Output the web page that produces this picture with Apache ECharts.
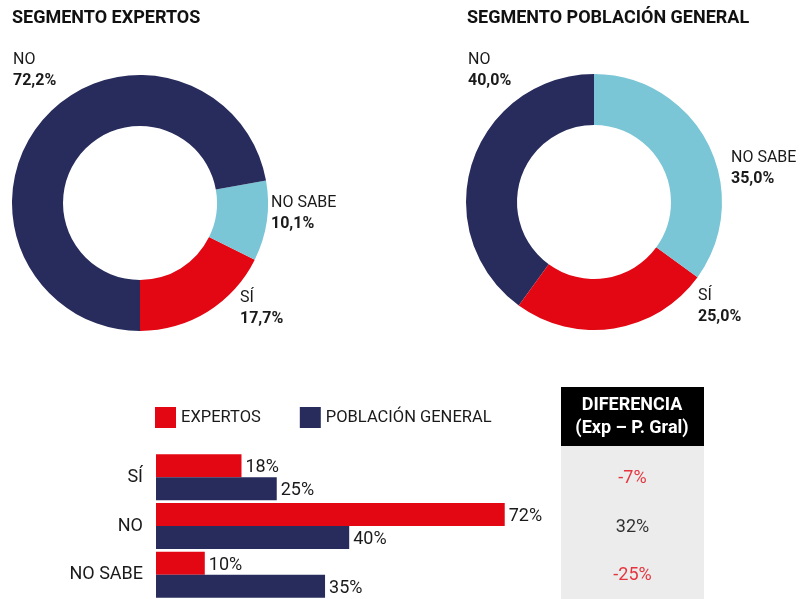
<!DOCTYPE html>
<html>
<head>
<meta charset="utf-8">
<script src="https://cdn.jsdelivr.net/npm/echarts@6/dist/echarts.min.js"></script>
<style>
html, body { margin: 0; padding: 0; background: #fff; }
#main { width: 802px; height: 599px; }
</style>
</head>
<body>
<div id="main"></div>
<script>
// datos
var categories = ['SÍ', 'NO', 'NO SABE'];
var expertos = [17.7, 72.2, 10.1];
var poblacion = [25.0, 40.0, 35.0];
var seriesNames = ['EXPERTOS', 'POBLACIÓN GENERAL'];
var pieTitles = ['SEGMENTO EXPERTOS', 'SEGMENTO POBLACIÓN GENERAL'];
var diffHeader = 'DIFERENCIA\n(Exp – P. Gral)';

var RED = '#e30613', NAVY = '#272c5c', SKY = '#7ac5d6', TXT = '#1a1a1a';
var sliceColor = { 'SÍ': RED, 'NO': NAVY, 'NO SABE': SKY };
var FONT = "Roboto, 'Liberation Sans', sans-serif";

var diffs = expertos.map(function (v, i) { return Math.round(v) - Math.round(poblacion[i]); });

// orden de los sectores (antihorario) y posicion de etiquetas
var pieOrder = [[0, 2, 1], [1, 0, 2]];
var pieStart = [270, 90];
var pieCenter = [[140, 203], [594, 202]];
var labelPos = [
    { 'SÍ': [240, 287], 'NO': [13, 49], 'NO SABE': [271, 192] },
    { 'SÍ': [698, 285], 'NO': [468, 49], 'NO SABE': [731, 147] }
];

function pct(v) { return v.toFixed(1).replace('.', ',') + '%'; }

function makePie(k, values) {
    var data = pieOrder[k].map(function (i) {
        return { name: categories[i], value: values[i], itemStyle: { color: sliceColor[categories[i]] } };
    });
    return {
        type: 'pie',
        center: pieCenter[k],
        radius: [77, 128],
        startAngle: pieStart[k],
        clockwise: false,
        silent: true,
        data: data,
        labelLine: { show: false },
        label: {
            show: true,
            position: 'outside',
            overflow: 'none',
            formatter: function (p) { return '{n|' + p.name + '}\n{v|' + pct(p.value) + '}'; },
            rich: {
                n: { fontFamily: FONT, fontSize: 16, color: TXT, lineHeight: 21 },
                v: { fontFamily: FONT, fontSize: 16, fontWeight: 'bold', color: TXT, lineHeight: 21 }
            }
        },
        labelLayout: function (params) {
            var name = data[params.dataIndex].name;
            var p = labelPos[k][name];
            return { x: p[0], y: p[1], align: 'left', verticalAlign: 'top' };
        }
    };
}

var barLabel = {
    show: true, position: 'right', distance: 4, offset: [0, 2],
    fontFamily: FONT, fontSize: 18, color: TXT,
    formatter: function (p) { return Math.round(p.value) + '%'; }
};

var myChart = echarts.init(document.getElementById('main'));

var option = {
    animation: false,
    title: pieTitles.map(function (t, k) {
        return {
            text: t, left: k === 0 ? 12 : 467, top: 9, padding: 0,
            textStyle: { fontFamily: FONT, fontSize: 18, fontWeight: 'bold', color: '#111' }
        };
    }),
    legend: {
        data: seriesNames,
        left: 155, top: 407, padding: 0,
        itemWidth: 21, itemHeight: 21, itemGap: 39,
        icon: 'rect',
        textStyle: { fontFamily: FONT, fontSize: 16.5, color: TXT }
    },
    grid: [
        { left: 156, top: 453, width: 483, height: 149 },
        { left: 561, top: 453, width: 143, height: 149 }
    ],
    xAxis: [
        { type: 'value', gridIndex: 0, min: 0, max: 100, show: false },
        { type: 'value', gridIndex: 1, min: -1, max: 1, show: false }
    ],
    yAxis: [
        {
            type: 'category', gridIndex: 0, data: categories, inverse: true,
            axisLine: { show: false }, axisTick: { show: false }, splitLine: { show: false },
            axisLabel: { fontFamily: FONT, fontSize: 18, color: TXT, margin: 13 }
        },
        { type: 'category', gridIndex: 1, data: categories, inverse: true, show: false }
    ],
    graphic: [
        { type: 'rect', z: 0, shape: { x: 561, y: 446, width: 143, height: 160 }, style: { fill: '#ececec' } },
        { type: 'rect', z: 0, shape: { x: 561, y: 387, width: 143, height: 59 }, style: { fill: '#000' } },
        {
            type: 'text', z: 1, x: 632, y: 394,
            style: {
                text: diffHeader, fill: '#fff', align: 'center',
                font: 'bold 18px ' + FONT, lineHeight: 23
            }
        }
    ],
    series: [
        makePie(0, expertos),
        makePie(1, poblacion),
        {
            name: seriesNames[0], type: 'bar', xAxisIndex: 0, yAxisIndex: 0,
            data: expertos, barWidth: 23, barGap: 0, silent: true,
            itemStyle: { color: RED },
            label: barLabel
        },
        {
            name: seriesNames[1], type: 'bar', xAxisIndex: 0, yAxisIndex: 0,
            data: poblacion, barWidth: 23, barGap: 0, silent: true,
            itemStyle: { color: NAVY },
            label: barLabel
        },
        {
            type: 'scatter', xAxisIndex: 1, yAxisIndex: 1, silent: true,
            symbolSize: 1, itemStyle: { color: '#ececec' },
            data: diffs.map(function (d, i) {
                return { value: [0, i, d], label: { color: d < 0 ? RED : '#000' } };
            }),
            label: {
                show: true, position: 'inside', offset: [0, 1],
                textBorderWidth: 0,
                fontFamily: FONT, fontSize: 18,
                formatter: function (p) { return p.value[2] + '%'; }
            }
        }
    ]
};

myChart.setOption(option);
</script>
</body>
</html>
